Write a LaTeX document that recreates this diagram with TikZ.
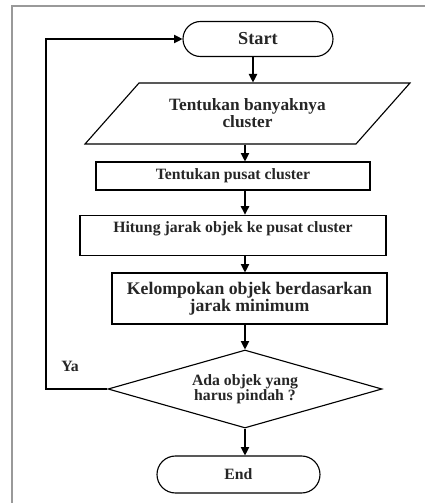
\documentclass[tikz,border=0pt]{standalone}
\usepackage{fontspec}
\setmainfont{Liberation Serif}
\usepackage{tikz}
\usetikzlibrary{arrows.meta,shapes.geometric,shapes.misc}

\begin{document}
\begin{tikzpicture}[->,>={Triangle[length=6pt,width=6pt]},line width=0.8pt,
                    node distance=2cm]
  \tikzstyle{every node}=[font=\fontsize{11.2}{10.5}\selectfont\bfseries,text=black!85,align=center,inner sep=0pt]
  \tikzstyle{terminal}=[draw,rounded rectangle]
  \tikzstyle{io}=[draw,trapezium,trapezium left angle=37,trapezium right angle=143,trapezium stretches=true]
  \tikzstyle{process}=[draw,rectangle]
  \tikzstyle{decision}=[draw,diamond,aspect=3.5]
\useasboundingbox (0,0) rectangle (10.625,-12.575);
\draw[-,black!40,line width=1pt] (10.625,-0.15) -- (0.3,-0.15) -- (0.3,-12.575);
\node [terminal,minimum width=3.75cm,minimum height=0.875cm,font=\fontsize{13}{12}\selectfont\bfseries] (start) at (6.45,-0.975) {Start};
\node [io,minimum width=8.125cm,minimum height=1.525cm,font=\fontsize{12.3}{10.5}\selectfont\bfseries] [below of=start,node distance=1.8625cm,xshift=-0.2625cm] (banyak) {Tentukan banyaknya\\cluster};
\node [process,minimum width=6.85cm,minimum height=0.7cm] [below of=banyak,node distance=1.5625cm,xshift=-0.3625cm] (pusat) {Tentukan pusat cluster};
\node [process,minimum width=7.65cm,text height=12.6pt,text depth=16.4pt] [below of=pusat,node distance=1.4875cm] (jarak) {Hitung jarak objek ke pusat cluster};
\node [process,minimum width=6.875cm,minimum height=1.275cm,font=\fontsize{12.6}{12.3}\selectfont\bfseries] [below of=jarak,node distance=1.575cm,xshift=0.4125cm] (kelompok) {Kelompokan objek berdasarkan\\jarak minimum};
\node [decision,minimum width=6.85cm,minimum height=1.95cm] [below of=kelompok,node distance=2.2625cm,xshift=-0.1125cm] (pindah) {Ada objek yang\\harus pindah ?};
\node [terminal,minimum width=4.075cm,minimum height=0.925cm] [below of=pindah,node distance=2.1375cm,xshift=-0.1625cm] (end) {End};
\node (ya) at (1.75,-9.15) {Ya};
\coordinate (alur) at (6.125,0);
\coordinate (alurstart) at (6.325,0);
\coordinate (balik) at (1.15,0);

\draw (start.south -| alurstart) -- (banyak.north -| alurstart);
\draw (banyak.south -| alur) -- (pusat.north -| alur);
\draw (pusat.south -| alur) -- (jarak.north -| alur);
\draw (jarak.south -| alur) -- (kelompok.north -| alur);
\draw (kelompok.south -| alur) -- (pindah.north);
\draw (pindah.south) -- (end.north -| pindah.south);
\draw (pindah.west) -- (pindah.west -| balik) |- (start.west);
	\end{tikzpicture}
\end{document}
